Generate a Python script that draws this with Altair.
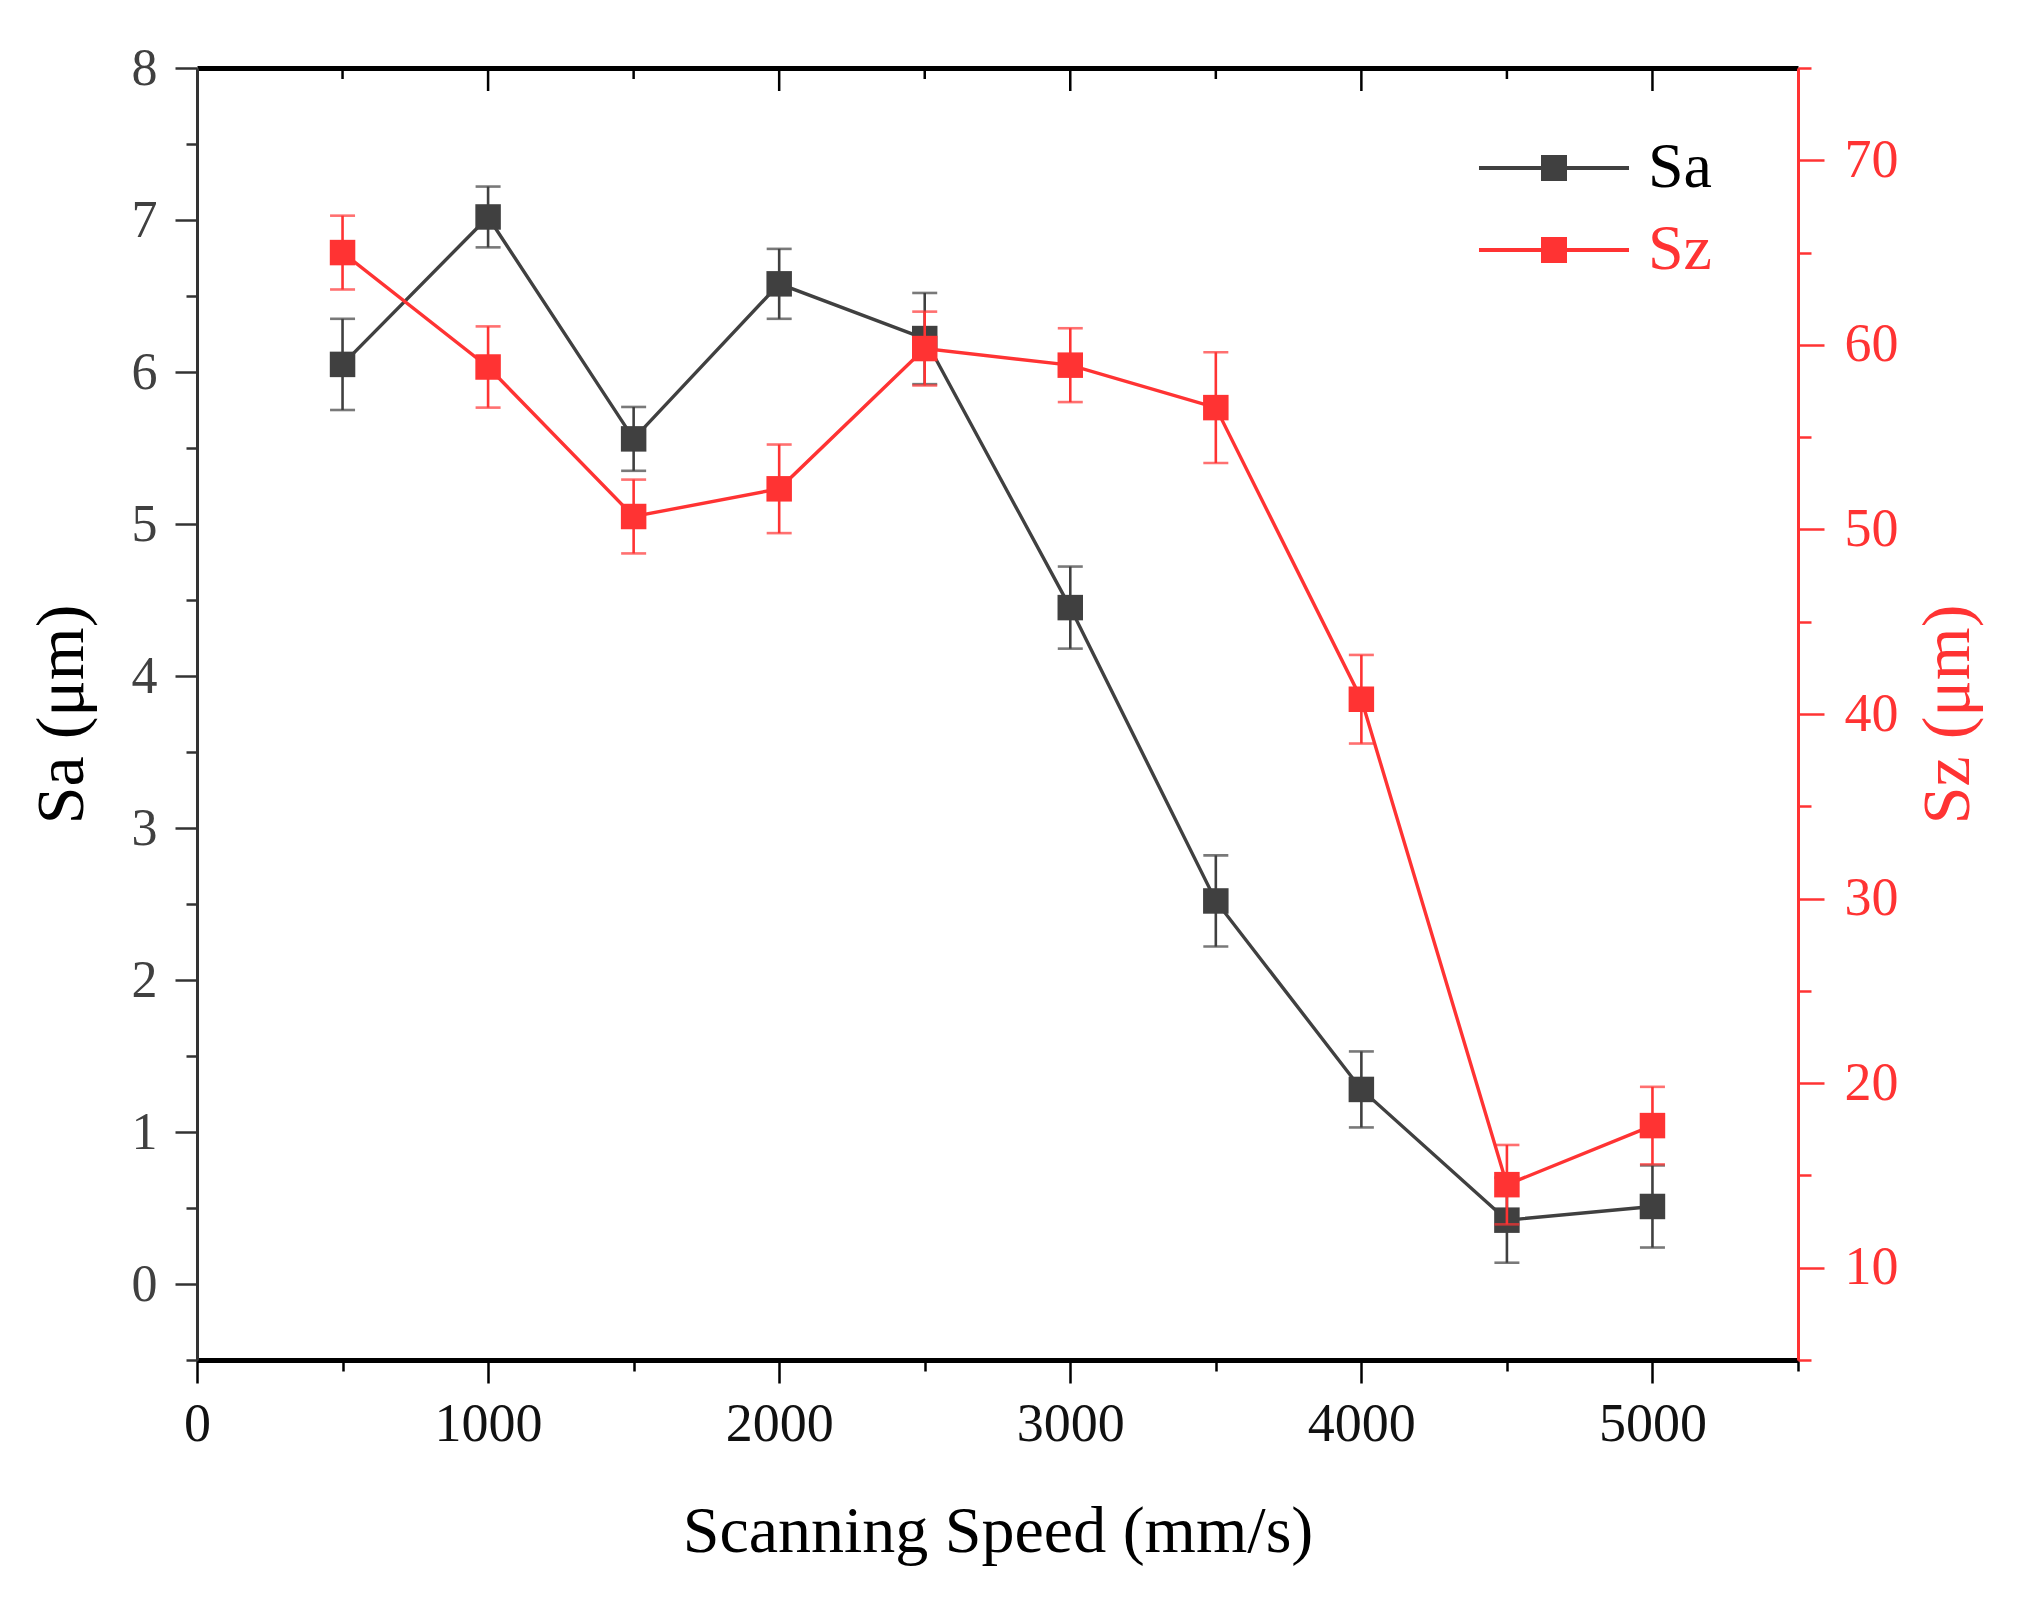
import altair as alt
import pandas as pd

# ---- data ----
speed = [500, 1000, 1500, 2000, 2500, 3000, 3500, 4000, 4500, 5000]
sa = [6.05, 7.02, 5.56, 6.58, 6.22, 4.45, 2.52, 1.28, 0.42, 0.51]
sa_err = [0.30, 0.20, 0.21, 0.23, 0.30, 0.27, 0.30, 0.25, 0.28, 0.27]
sz = [65.0, 58.8, 50.7, 52.2, 59.8, 58.9, 56.6, 40.8, 14.5, 17.7]
sz_err = [2.0, 2.2, 2.0, 2.4, 2.0, 2.0, 3.0, 2.4, 2.15, 2.1]

x_ticks = list(range(0, 5501, 500))
sa_ticks = [i * 0.5 for i in range(-1, 17)]
sz_ticks = list(range(5, 76, 5))
top_ticks = list(range(500, 5001, 500))
series_names = ["Sa", "Sz"]

GRAY = "#404040"
RED = "#ff3333"
FONT = "Liberation Serif"

sa_df = pd.DataFrame({"speed": speed, "value": sa, "err": sa_err, "series": "Sa"})
sz_df = pd.DataFrame({"speed": speed, "value": sz, "err": sz_err, "series": "Sz"})
top_df = pd.DataFrame({"v": top_ticks})

xscale = alt.Scale(domain=[0, 5500], nice=False, zero=False)

x_bottom_axis = alt.Axis(
    orient="bottom", values=x_ticks, tickCount=100, format="d",
    labelExpr="datum.value % 1000 === 0 ? datum.label : ''",
    labelFont=FONT, labelFontSize=54, labelColor="#111111", labelPadding=14,
    labelOverlap=False, labelFlush=False,
    tickSize={"condition": {"test": "datum.value % 1000 !== 0", "value": 11}, "value": 23},
    tickColor="black", tickWidth=2.5, domainColor="black", domainWidth=5, grid=False,
    titleFont=FONT, titleFontSize=66, titleFontWeight="normal", titleColor="black",
    titlePadding=48,
)

sa_axis = alt.Axis(
    orient="left", values=sa_ticks, tickCount=100, tickMinStep=0.5,
    labelExpr="datum.value >= 0 && datum.value % 1 === 0 ? format(datum.value, '.0f') : ''",
    labelFont=FONT, labelFontSize=52, labelColor=GRAY, labelPadding=18,
    labelOverlap=False, labelFlush=False,
    tickSize={"condition": {"test": "datum.value % 1 !== 0", "value": 11}, "value": 22},
    tickColor="#333333", tickWidth=2.5, domainColor="#333333", domainWidth=3, grid=False,
    titleFont=FONT, titleFontSize=68, titleFontWeight="normal", titleColor="black",
    titlePadding=35,
)

sz_axis = alt.Axis(
    orient="right", values=sz_ticks, tickCount=100, format="d",
    labelExpr="datum.value % 10 === 0 && datum.value >= 10 && datum.value <= 70 ? datum.label : ''",
    labelFont=FONT, labelFontSize=54, labelColor=RED, labelPadding=20,
    labelOverlap=False, labelFlush=False,
    tickSize={"condition": {"test": "datum.value % 10 !== 0", "value": 13}, "value": 26},
    tickColor=RED, tickWidth=2.5, domainColor=RED, domainWidth=3, grid=False,
    titleFont=FONT, titleFontSize=68, titleFontWeight="normal", titleColor=RED,
    titlePadding=16, titleAngle=270, titleBaseline="top",
)

# legend symbol: line - square - line (all filled shapes), unit = 13 px
legend_path = ("M-5.77,-0.15H-1V0.15H-5.77Z M1,-0.15H5.77V0.15H1Z "
               "M-1,-1H1V1H-1Z")

color_scale = alt.Scale(domain=series_names, range=[GRAY, RED])

legend = alt.Legend(
    title=None, orient="none", legendX=1325, legendY=68,
    symbolType=legend_path, symbolSize=676, symbolStrokeWidth=0,
    labelFont=FONT, labelFontSize=64, labelOffset=62,
    labelColor=alt.ExprRef(expr="datum.value === 'Sz' ? '#ff3333' : '#000000'"),
    rowPadding=18, padding=0,
)


def series_layers(df, color, yscale, yaxis, title, x_axis, x_title):
    base = alt.Chart(df)
    x_none = alt.X("speed:Q", scale=xscale, axis=None)
    rules = base.transform_calculate(
        lo="datum.value - datum.err", hi="datum.value + datum.err"
    ).mark_rule(color=color, strokeWidth=2.6).encode(
        x=x_none,
        y=alt.Y("lo:Q", scale=yscale, axis=None),
        y2="hi:Q",
    )
    cap_lo = base.transform_calculate(lo="datum.value - datum.err").mark_tick(
        color=color, orient="horizontal", size=25, thickness=2.6
    ).encode(x=x_none, y=alt.Y("lo:Q", scale=yscale, axis=None))
    cap_hi = base.transform_calculate(hi="datum.value + datum.err").mark_tick(
        color=color, orient="horizontal", size=25, thickness=2.6
    ).encode(x=x_none, y=alt.Y("hi:Q", scale=yscale, axis=None))
    line = base.mark_line(color=color, strokeWidth=3.4).encode(
        x=x_none, y=alt.Y("value:Q", scale=yscale, axis=None)
    )
    if x_axis is not None:
        x_enc = alt.X("speed:Q", scale=xscale, axis=x_axis, title=x_title)
    else:
        x_enc = x_none
    pts = base.mark_square(size=650, filled=True, opacity=1).encode(
        x=x_enc,
        y=alt.Y("value:Q", scale=yscale, axis=yaxis, title=title),
        color=alt.Color("series:N", scale=color_scale, legend=legend),
    )
    return [rules, cap_lo, cap_hi, line, pts]


sa_scale = alt.Scale(domain=[-0.5, 8], nice=False, zero=False)
sz_scale = alt.Scale(domain=[5, 75], nice=False, zero=False)

sa_parts = series_layers(sa_df, GRAY, sa_scale, sa_axis, "Sa (μm)",
                         x_bottom_axis, "Scanning Speed (mm/s)")
sz_parts = series_layers(sz_df, RED, sz_scale, sz_axis, "Sz (μm)", None, None)

top_major = alt.Chart(top_df).transform_filter("datum.v % 1000 === 0").mark_rule(
    color="black", strokeWidth=2.5
).encode(
    x=alt.X("v:Q", scale=xscale, axis=alt.Axis(
        orient="top", labels=False, ticks=False, domainColor="black",
        domainWidth=5, title=None, grid=False)),
    y=alt.value(0), y2=alt.value(23),
)
top_minor = alt.Chart(top_df).transform_filter("datum.v % 1000 !== 0").mark_rule(
    color="black", strokeWidth=2.5
).encode(
    x=alt.X("v:Q", scale=xscale, axis=None),
    y=alt.value(0), y2=alt.value(11),
)

chart = alt.layer(*sa_parts, *sz_parts, top_major, top_minor).resolve_scale(
    y="independent"
).resolve_axis(x="independent", y="independent").properties(
    width=1601, height=1292,
    autosize=alt.AutoSizeParams(type="none"),
    padding={"left": 189, "top": 60, "right": 220, "bottom": 230},
    background="white",
).configure_view(stroke=None)

chart.save("out.html", embed_options={"renderer": "svg", "actions": False})
